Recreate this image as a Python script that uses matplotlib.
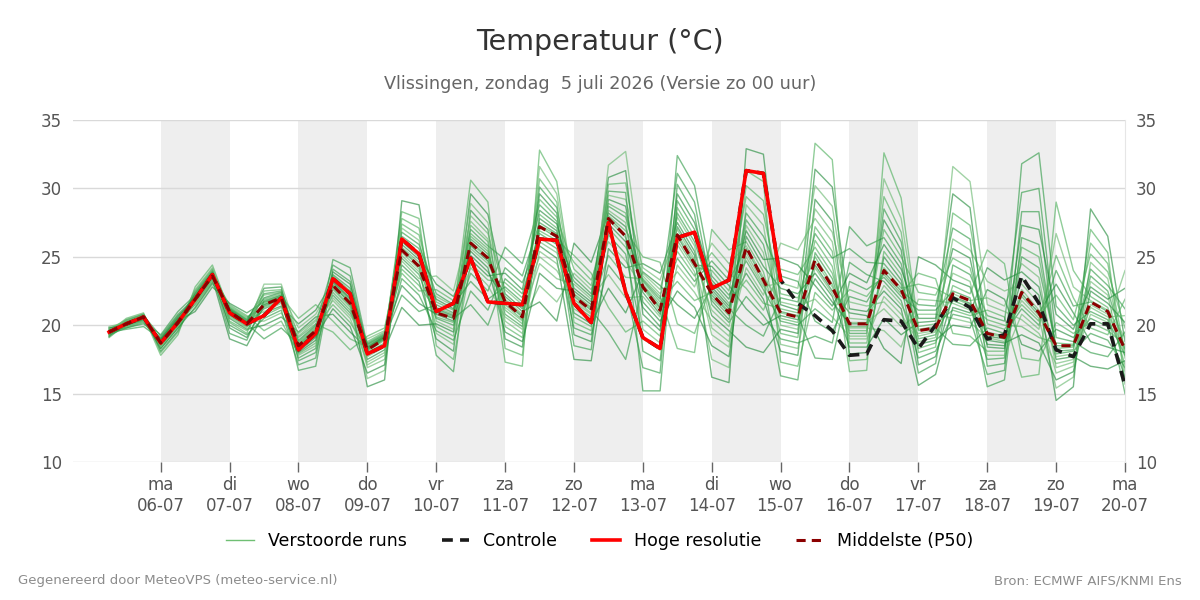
import numpy as np
import pandas as pd
import matplotlib
matplotlib.use("Agg")
import matplotlib.pyplot as plt
from matplotlib.lines import Line2D

plt.rcParams['font.family'] = ['DejaVu Sans']

# 6-hourly forecast steps
times = pd.date_range('2026-07-05 06:00', periods=60, freq='6h')

# Hoge resolutie (runs until 15-07 00 uur)
hres = [19.5, 20.1, 20.6, 18.7, 20.2, 21.9, 23.7, 20.9, 20.1, 20.7, 22.0, 18.2,
        19.4, 23.4, 22.3, 17.9, 18.5, 26.3, 25.2, 21.0, 21.6, 24.9, 21.7, 21.6,
        21.5, 26.3, 26.2, 21.6, 20.2, 27.5, 22.4, 19.1, 18.3, 26.4, 26.8, 22.7,
        23.3, 31.3, 31.1, 23.3]

control = [19.5, 20.1, 20.6, 18.7, 20.2, 21.9, 23.7, 20.9, 20.1, 20.7, 22.0, 18.2,
           19.4, 23.4, 22.3, 17.9, 18.5, 26.3, 25.2, 21.0, 21.6, 24.9, 21.7, 21.6,
           21.5, 26.3, 26.2, 21.6, 20.2, 27.5, 22.4, 19.1, 18.3, 26.4, 26.8, 22.7,
           23.3, 31.3, 31.1, 23.3, 21.6, 20.7, 19.6, 17.8, 17.9, 20.4, 20.3, 18.3,
           20.0, 22.0, 21.3, 19.0, 19.3, 23.6, 21.6, 18.2, 17.7, 20.1, 20.1, 15.6]

median = [19.5, 20.1, 20.6, 18.7, 20.2, 21.9, 23.6, 21.0, 20.1, 21.5, 22.0, 18.5,
          19.6, 22.9, 21.6, 18.2, 19.0, 25.5, 24.3, 20.9, 20.5, 26.0, 24.9, 21.7,
          20.6, 27.2, 26.5, 22.1, 21.1, 27.8, 26.5, 22.8, 21.1, 26.6, 24.5, 22.3,
          20.9, 25.7, 23.3, 20.9, 20.6, 24.8, 22.8, 20.1, 20.1, 24.0, 22.6, 19.6,
          19.8, 22.3, 21.8, 19.4, 19.1, 22.4, 20.9, 18.5, 18.5, 21.7, 21.0, 18.2]

# perturbed members, per time step sorted from coldest to warmest
runs_table = """
19.1 19.2 19.2 19.3 19.3 19.4 19.4 19.4 19.4 19.5 19.5 19.5 19.5 19.5 19.5 19.6 19.6 19.6 19.6 19.7 19.7 19.8 19.8 19.9
19.7 19.8 19.8 19.9 19.9 20.0 20.0 20.0 20.0 20.1 20.1 20.1 20.1 20.1 20.1 20.2 20.2 20.2 20.2 20.3 20.3 20.4 20.4 20.5
19.9 20.1 20.2 20.3 20.3 20.4 20.4 20.5 20.5 20.5 20.6 20.6 20.6 20.6 20.6 20.7 20.7 20.7 20.7 20.7 20.8 20.8 20.8 20.9
17.8 18.0 18.1 18.3 18.3 18.4 18.5 18.5 18.6 18.6 18.7 18.7 18.7 18.7 18.8 18.8 18.8 18.9 18.9 19.0 19.0 19.1 19.2 19.3
19.3 19.5 19.6 19.8 19.8 19.9 20.0 20.0 20.1 20.1 20.2 20.2 20.2 20.3 20.3 20.3 20.4 20.4 20.5 20.5 20.6 20.7 20.8 21.0
21.0 21.2 21.3 21.5 21.5 21.6 21.7 21.7 21.8 21.8 21.9 21.9 21.9 22.0 22.0 22.0 22.1 22.2 22.2 22.3 22.4 22.5 22.6 22.8
22.8 23.0 23.1 23.2 23.3 23.3 23.4 23.4 23.5 23.5 23.6 23.6 23.6 23.7 23.7 23.7 23.8 23.8 23.9 23.9 24.0 24.1 24.2 24.4
19.0 19.4 19.8 20.0 20.2 20.3 20.5 20.6 20.7 20.8 20.9 21.0 21.0 21.0 21.1 21.1 21.1 21.2 21.2 21.3 21.3 21.4 21.5 21.6
18.5 18.9 19.1 19.3 19.4 19.6 19.7 19.8 19.9 20.0 20.0 20.1 20.1 20.2 20.2 20.2 20.3 20.3 20.4 20.4 20.5 20.6 20.7 20.9
19.0 19.6 20.0 20.3 20.5 20.7 20.9 21.0 21.2 21.3 21.4 21.5 21.5 21.6 21.7 21.7 21.8 21.9 22.0 22.2 22.3 22.5 22.7 23.0
19.8 20.3 20.6 20.9 21.1 21.3 21.4 21.6 21.7 21.8 21.9 22.0 22.0 22.1 22.1 22.2 22.2 22.3 22.4 22.4 22.5 22.6 22.8 23.0
16.7 17.1 17.4 17.6 17.8 17.9 18.0 18.1 18.3 18.3 18.4 18.5 18.5 18.6 18.7 18.8 18.9 19.1 19.2 19.4 19.5 19.8 20.1 20.5
17.0 17.6 18.0 18.3 18.5 18.7 18.9 19.1 19.2 19.4 19.5 19.6 19.6 19.7 19.8 19.9 20.0 20.1 20.3 20.4 20.6 20.8 21.1 21.5
19.5 20.3 20.8 21.2 21.5 21.8 22.0 22.2 22.4 22.6 22.7 22.9 22.9 23.0 23.1 23.2 23.3 23.4 23.6 23.7 23.9 24.1 24.4 24.8
18.2 19.0 19.5 19.9 20.2 20.5 20.7 20.9 21.1 21.3 21.4 21.6 21.7 21.8 21.9 22.0 22.2 22.3 22.5 22.7 23.0 23.2 23.6 24.2
15.5 16.1 16.5 16.9 17.1 17.3 17.5 17.7 17.8 18.0 18.1 18.2 18.2 18.3 18.3 18.4 18.4 18.5 18.6 18.6 18.7 18.8 19.0 19.2
16.0 16.7 17.1 17.5 17.8 18.0 18.2 18.4 18.6 18.7 18.9 19.0 19.0 19.1 19.1 19.1 19.2 19.2 19.3 19.3 19.4 19.5 19.6 19.8
21.3 22.2 22.9 23.4 23.8 24.1 24.4 24.7 24.9 25.1 25.3 25.5 25.6 25.7 25.9 26.1 26.3 26.5 26.8 27.1 27.4 27.8 28.3 29.1
20.0 21.0 21.6 22.2 22.5 22.9 23.2 23.4 23.7 23.9 24.1 24.3 24.4 24.6 24.8 25.0 25.3 25.6 25.9 26.2 26.6 27.1 27.8 28.8
17.8 18.5 19.0 19.4 19.6 19.9 20.1 20.3 20.5 20.6 20.8 20.9 21.0 21.1 21.2 21.3 21.5 21.7 21.9 22.1 22.3 22.6 23.0 23.6
16.6 17.5 18.1 18.6 18.9 19.2 19.5 19.7 20.0 20.2 20.3 20.5 20.5 20.6 20.7 20.8 20.9 21.1 21.2 21.4 21.5 21.8 22.1 22.5
21.5 22.5 23.2 23.8 24.2 24.5 24.8 25.1 25.4 25.6 25.8 26.0 26.1 26.3 26.5 26.7 27.0 27.3 27.6 28.0 28.4 28.9 29.6 30.6
20.0 21.1 21.9 22.5 22.9 23.3 23.6 23.9 24.2 24.5 24.7 24.9 25.0 25.2 25.4 25.6 25.8 26.1 26.3 26.7 27.0 27.5 28.1 29.0
17.3 18.3 19.0 19.5 19.9 20.3 20.6 20.8 21.1 21.3 21.5 21.7 21.8 21.9 22.1 22.3 22.6 22.8 23.1 23.4 23.8 24.2 24.8 25.7
17.0 17.8 18.4 18.8 19.1 19.4 19.7 19.9 20.1 20.3 20.4 20.6 20.7 20.8 21.0 21.2 21.5 21.7 22.0 22.3 22.6 23.1 23.6 24.5
21.7 22.9 23.8 24.5 25.0 25.4 25.8 26.1 26.4 26.7 26.9 27.2 27.3 27.5 27.8 28.1 28.4 28.8 29.2 29.6 30.1 30.7 31.6 32.8
20.3 21.7 22.7 23.4 24.0 24.5 24.9 25.3 25.6 25.9 26.2 26.4 26.6 26.7 26.9 27.1 27.4 27.6 27.9 28.2 28.6 29.0 29.6 30.5
17.5 18.5 19.3 19.8 20.2 20.6 20.9 21.2 21.5 21.7 21.9 22.1 22.2 22.3 22.5 22.7 23.0 23.2 23.5 23.8 24.1 24.6 25.1 26.0
17.4 18.2 18.8 19.3 19.6 19.9 20.1 20.4 20.6 20.8 20.9 21.1 21.2 21.3 21.5 21.7 21.9 22.1 22.3 22.6 22.9 23.3 23.8 24.6
19.5 21.3 22.7 23.7 24.4 25.1 25.6 26.1 26.6 27.1 27.4 27.7 27.9 28.0 28.2 28.4 28.7 28.9 29.2 29.5 29.8 30.3 30.8 31.7
17.5 19.5 20.9 22.0 22.8 23.5 24.2 24.7 25.2 25.7 26.1 26.4 26.6 26.9 27.2 27.5 27.9 28.2 28.7 29.2 29.7 30.4 31.3 32.7
15.2 16.9 18.1 19.0 19.7 20.3 20.8 21.3 21.7 22.1 22.4 22.7 22.8 22.9 23.0 23.2 23.3 23.4 23.6 23.8 23.9 24.2 24.5 25.0
15.2 16.5 17.4 18.2 18.7 19.2 19.6 19.9 20.3 20.6 20.8 21.0 21.2 21.3 21.5 21.7 21.9 22.1 22.3 22.6 22.9 23.3 23.8 24.6
18.3 20.1 21.5 22.5 23.2 23.9 24.4 24.9 25.4 25.9 26.2 26.5 26.7 27.0 27.2 27.5 27.9 28.2 28.6 29.1 29.6 30.3 31.1 32.4
18.0 19.4 20.5 21.3 21.8 22.4 22.8 23.2 23.6 23.9 24.2 24.4 24.6 24.8 25.1 25.4 25.8 26.1 26.5 27.0 27.5 28.1 29.0 30.2
16.2 17.5 18.5 19.3 19.8 20.3 20.7 21.1 21.5 21.8 22.0 22.2 22.4 22.6 22.8 23.1 23.3 23.6 24.0 24.3 24.7 25.3 26.0 27.0
15.8 16.9 17.7 18.4 18.8 19.2 19.6 19.9 20.2 20.4 20.7 20.9 21.0 21.2 21.4 21.6 21.9 22.2 22.5 22.9 23.3 23.8 24.5 25.5
18.4 20.0 21.2 22.1 22.7 23.3 23.8 24.2 24.7 25.0 25.3 25.6 25.8 26.1 26.5 26.9 27.3 27.7 28.2 28.8 29.4 30.2 31.3 32.9
18.0 19.2 20.0 20.7 21.1 21.6 21.9 22.2 22.6 22.8 23.0 23.3 23.5 23.9 24.3 24.8 25.3 25.9 26.5 27.3 28.1 29.1 30.5 32.5
16.3 17.3 18.1 18.6 19.0 19.4 19.7 20.0 20.3 20.5 20.7 20.9 21.0 21.2 21.5 21.7 22.0 22.3 22.7 23.1 23.6 24.1 24.9 26.0
16.0 17.0 17.8 18.3 18.7 19.1 19.4 19.7 20.0 20.2 20.4 20.6 20.7 20.9 21.1 21.4 21.7 22.0 22.3 22.7 23.2 23.7 24.4 25.5
17.6 19.2 20.3 21.2 21.9 22.4 22.9 23.4 23.8 24.2 24.4 24.7 25.0 25.3 25.7 26.2 26.7 27.2 27.8 28.5 29.2 30.2 31.4 33.3
17.5 18.7 19.5 20.2 20.6 21.1 21.4 21.7 22.1 22.3 22.5 22.8 23.0 23.4 23.8 24.3 24.9 25.4 26.1 26.8 27.6 28.7 30.1 32.1
16.6 17.4 17.9 18.4 18.7 19.0 19.2 19.4 19.6 19.8 19.9 20.1 20.2 20.5 20.9 21.2 21.7 22.1 22.6 23.2 23.8 24.6 25.6 27.2
16.7 17.5 18.0 18.4 18.7 19.0 19.2 19.4 19.6 19.8 19.9 20.1 20.2 20.4 20.7 21.0 21.4 21.7 22.1 22.6 23.1 23.7 24.6 25.8
18.3 19.6 20.5 21.2 21.7 22.1 22.5 22.9 23.2 23.5 23.7 23.9 24.2 24.5 25.0 25.4 25.9 26.4 27.0 27.7 28.5 29.4 30.7 32.6
17.2 18.4 19.3 19.9 20.4 20.8 21.2 21.5 21.8 22.1 22.3 22.5 22.7 23.0 23.3 23.7 24.1 24.5 25.0 25.5 26.1 26.8 27.8 29.3
15.6 16.5 17.1 17.6 18.0 18.3 18.6 18.8 19.0 19.2 19.4 19.6 19.7 19.9 20.2 20.5 20.8 21.1 21.5 21.9 22.4 23.0 23.8 25.0
16.4 17.2 17.7 18.1 18.4 18.7 18.9 19.1 19.3 19.5 19.6 19.8 19.9 20.1 20.3 20.5 20.8 21.1 21.4 21.8 22.2 22.7 23.4 24.4
18.6 19.4 20.0 20.5 20.8 21.1 21.3 21.6 21.8 22.0 22.1 22.3 22.5 22.9 23.3 23.8 24.4 24.9 25.6 26.3 27.1 28.2 29.6 31.6
18.5 19.2 19.8 20.2 20.5 20.7 20.9 21.1 21.3 21.5 21.6 21.8 22.0 22.3 22.8 23.2 23.7 24.2 24.9 25.5 26.3 27.3 28.6 30.5
15.5 16.4 17.0 17.5 17.8 18.1 18.4 18.6 18.9 19.1 19.2 19.4 19.5 19.8 20.1 20.4 20.7 21.1 21.5 22.0 22.6 23.2 24.2 25.5
16.0 16.7 17.2 17.6 17.8 18.1 18.3 18.5 18.7 18.8 19.0 19.1 19.2 19.4 19.7 20.0 20.3 20.6 21.0 21.4 21.9 22.5 23.3 24.5
16.2 17.6 18.6 19.3 19.9 20.4 20.8 21.2 21.5 21.8 22.1 22.3 22.6 23.0 23.4 23.9 24.5 25.0 25.7 26.4 27.3 28.3 29.7 31.8
16.4 17.4 18.1 18.7 19.1 19.4 19.7 20.0 20.3 20.5 20.7 20.9 21.1 21.6 22.2 22.8 23.5 24.2 25.0 25.9 27.0 28.3 30.0 32.6
14.5 15.4 16.0 16.5 16.9 17.2 17.5 17.7 17.9 18.1 18.3 18.5 18.7 19.1 19.7 20.2 20.8 21.4 22.2 23.0 24.0 25.1 26.7 29.0
15.5 16.2 16.6 17.0 17.3 17.5 17.7 17.9 18.1 18.2 18.4 18.5 18.6 18.8 19.1 19.4 19.7 20.0 20.4 20.9 21.4 22.0 22.8 24.0
17.0 18.0 18.8 19.4 19.8 20.2 20.5 20.8 21.0 21.3 21.5 21.7 21.8 22.1 22.5 22.8 23.2 23.6 24.1 24.6 25.2 26.0 27.0 28.5
16.8 17.7 18.4 18.9 19.3 19.6 19.9 20.2 20.4 20.6 20.8 21.0 21.1 21.3 21.6 21.9 22.2 22.5 22.9 23.4 23.9 24.5 25.3 26.5
15.0 15.7 16.2 16.6 16.9 17.1 17.4 17.6 17.8 17.9 18.0 18.2 18.3 18.6 18.8 19.1 19.5 19.8 20.2 20.7 21.2 21.9 22.7 24.0
"""

# which rank each member takes, one order per half day (cycled)
rank_orders = [
    [0, 1, 2, 3, 4, 5, 6, 7, 8, 9, 10, 11, 12, 13, 14, 15, 16, 17, 18, 19, 20, 21, 22, 23],
    [13, 5, 20, 9, 1, 17, 22, 11, 3, 15, 7, 19, 0, 23, 10, 4, 16, 12, 8, 21, 2, 14, 6, 18],
    [7, 18, 2, 12, 21, 0, 15, 9, 23, 4, 11, 16, 19, 1, 14, 6, 22, 10, 3, 13, 17, 8, 20, 5],
    [20, 10, 14, 3, 8, 23, 6, 1, 17, 12, 19, 4, 9, 15, 0, 22, 13, 18, 2, 7, 11, 21, 16, 5],
    [11, 22, 6, 16, 3, 13, 0, 19, 8, 21, 2, 10, 17, 5, 23, 12, 1, 20, 14, 9, 18, 4, 15, 7],
]

day_ticks = pd.date_range('2026-07-06', '2026-07-20', freq='D')
day_names = ['ma', 'di', 'wo', 'do', 'vr', 'za', 'zo', 'ma', 'di', 'wo', 'do',
             'vr', 'za', 'zo', 'ma']
shaded_days = ['2026-07-06', '2026-07-08', '2026-07-10', '2026-07-12',
               '2026-07-14', '2026-07-16', '2026-07-18']

sorted_vals = np.array([r.split() for r in runs_table.strip().splitlines()], dtype=float)
block = (np.arange(len(times)) + 1) // 2
runs = np.array([sorted_vals[i, rank_orders[b % 5]] for i, b in enumerate(block)])

greens = ['#2e9a45', '#4caf5a', '#1f8a38', '#68b86f']

fig = plt.figure(figsize=(12, 6), dpi=100)
ax = fig.add_axes([0.061, 0.23, 0.8765, 0.57])

for d in shaded_days:
    start = pd.Timestamp(d)
    ax.axvspan(start, start + pd.Timedelta(days=1), color='#eeeeee', zorder=0, lw=0)

for m in range(runs.shape[1]):
    ax.plot(times, runs[:, m], color=greens[m % len(greens)], lw=1.0, alpha=0.62, zorder=2)

ax.plot(times, control, color='#1a1a1a', lw=2.6, ls=(0, (3, 2)), zorder=3)
ax.plot(times[:len(hres)], hres, color='#ff0000', lw=2.6, zorder=4)
ax.plot(times, median, color='#8b0000', lw=2.2, ls=(0, (3, 2)), zorder=5)

ax.set_ylim(10, 35)
ax.set_xlim(pd.Timestamp('2026-07-06') - pd.Timedelta(hours=30.5), pd.Timestamp('2026-07-20'))
ax.set_yticks([10, 15, 20, 25, 30, 35])
ax.grid(axis='y', color='#d9d9d9', lw=1, zorder=1)
ax.set_axisbelow(True)

ax.set_xticks(day_ticks)
ax.set_xticklabels([f'{n}\n{t:%d-%m}' for n, t in zip(day_names, day_ticks)])
ax.tick_params(axis='x', length=7, width=1, color='#666666', labelcolor='#555555',
               labelsize=12, pad=3)
ax.tick_params(axis='y', length=0, labelcolor='#555555', labelsize=12,
               labelright=True, pad=8)

for s in ['top', 'left', 'bottom']:
    ax.spines[s].set_visible(False)
ax.spines['right'].set_color('#e6e6e6')

fig.text(0.5, 0.93, 'Temperatuur (°C)', ha='center', va='center', fontsize=20.5, color='#333333')
fig.text(0.5, 0.86, 'Vlissingen, zondag  5 juli 2026 (Versie zo 00 uur)', ha='center',
         va='center', fontsize=12.7, color='#666666')

handles = [
    Line2D([], [], color='#6fbf73', lw=1),
    Line2D([], [], color='#1a1a1a', lw=2.6, ls=(0, (3, 2))),
    Line2D([], [], color='#ff0000', lw=2.6),
    Line2D([], [], color='#8b0000', lw=2.2, ls=(0, (3, 2))),
]
labels = ['Verstoorde runs', 'Controle', 'Hoge resolutie', 'Middelste (P50)']
fig.legend(handles, labels, loc='center', bbox_to_anchor=(0.5, 0.098), ncol=4,
           frameon=False, fontsize=12.5, handlelength=1.6, columnspacing=2.0)

fig.text(0.015, 0.032, 'Gegenereerd door MeteoVPS (meteo-service.nl)', ha='left',
         va='center', fontsize=9.5, color='#8c8c8c')
fig.text(0.985, 0.032, 'Bron: ECMWF AIFS/KNMI Ens', ha='right', va='center',
         fontsize=9.5, color='#8c8c8c')

fig.savefig('out.png', dpi=100)
